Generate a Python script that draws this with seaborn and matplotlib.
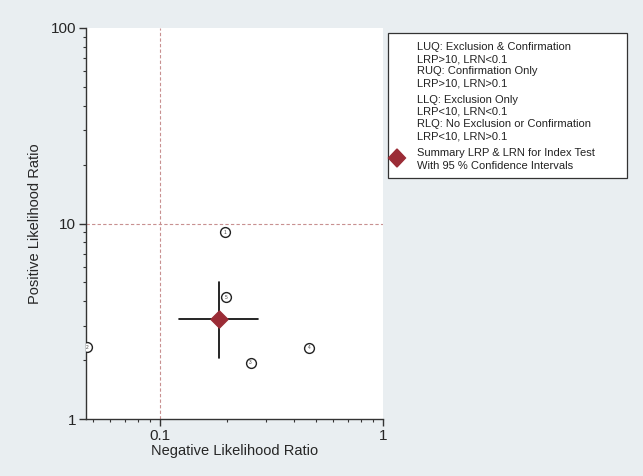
import numpy as np
import pandas as pd
import matplotlib
matplotlib.use("Agg")
import matplotlib.pyplot as plt
import seaborn as sns

# study-level likelihood ratios
study_ids = ["1", "5", "2", "3", "4"]
lr_negative = [0.196, 0.198, 0.0473, 0.255, 0.468]
lr_positive = [9.0, 4.2, 2.34, 1.94, 2.32]

# summary point with 95% CI
summary_lrn = 0.184
summary_lrn_ci = [0.122, 0.275]
summary_lrp = 3.24
summary_lrp_ci = [2.05, 5.03]

legend_lines = [
    "LUQ: Exclusion & Confirmation",
    "LRP>10, LRN<0.1",
    "RUQ: Confirmation Only",
    "LRP>10, LRN>0.1",
    "LLQ: Exclusion Only",
    "LRP<10, LRN<0.1",
    "RLQ: No Exclusion or Confirmation",
    "LRP<10, LRN>0.1",
    "Summary LRP & LRN for Index Test",
    "With 95 % Confidence Intervals",
]

df = pd.DataFrame({"study": study_ids, "LRN": lr_negative, "LRP": lr_positive})

sns.set_style("ticks")
plt.rcParams["font.family"] = ["Liberation Sans", "DejaVu Sans"]

BG = "#e9eef1"
DIAMOND = "#9b2c36"

fig = plt.figure(figsize=(6.43, 4.76), dpi=100, facecolor=BG)
ax = fig.add_axes([0.1337, 0.1191, 0.4619, 0.8227])
ax.set_facecolor("white")

ax.set_xscale("log")
ax.set_yscale("log")
ax.set_xlim(0.0466, 1)
ax.set_ylim(1, 100)

# quadrant reference lines
ax.axvline(0.1, color="#c89090", lw=0.8, ls=(0, (3, 2)), zorder=1)
ax.axhline(10, color="#c89090", lw=0.8, ls=(0, (3, 2)), zorder=1)

# summary CI cross
ax.plot(summary_lrn_ci, [summary_lrp, summary_lrp], color="black", lw=1.2, zorder=3)
ax.plot([summary_lrn, summary_lrn], summary_lrp_ci, color="black", lw=1.2, zorder=3)
ax.scatter([summary_lrn], [summary_lrp], marker="D", s=75, color=DIAMOND,
           edgecolor=DIAMOND, zorder=4)

# individual studies
sns.scatterplot(data=df, x="LRN", y="LRP", ax=ax, marker="o", s=50,
                facecolor="white", edgecolor="#222222", linewidth=1.0,
                zorder=5, legend=False)
for _, r in df.iterrows():
    ax.text(r["LRN"], r["LRP"], r["study"], fontsize=3.5, ha="center",
            va="center", color="#444444", zorder=6)

ax.set_xticks([0.1, 1])
ax.set_xticklabels(["0.1", "1"])
ax.set_yticks([1, 10, 100])
ax.set_yticklabels(["1", "10", "100"])
ax.tick_params(axis="both", which="major", labelsize=11, length=5,
               width=1, color="#333333", pad=2)
ax.tick_params(axis="both", which="minor", length=2.5, width=0.8, color="#333333")
ax.set_xlabel("Negative Likelihood Ratio", fontsize=10.5, labelpad=1)
ax.set_ylabel("Positive Likelihood Ratio", fontsize=10.5, labelpad=6)

for side in ["top", "right"]:
    ax.spines[side].set_visible(False)
for side in ["left", "bottom"]:
    ax.spines[side].set_color("#333333")
    ax.spines[side].set_linewidth(1.0)

# legend box drawn in figure pixels
W, H = 643, 476
box = plt.Rectangle((388 / W, 1 - 178 / H), (627 - 388) / W, (178 - 33) / H,
                    transform=fig.transFigure, facecolor="white",
                    edgecolor="#333333", lw=0.9, zorder=0)
fig.patches.append(box)
line_y = [46.7, 59.3, 71, 83.3, 100, 111.7, 124, 136.7, 153.3, 165.7]
for txt, yy in zip(legend_lines, line_y):
    fig.text(417 / W, 1 - yy / H, txt, fontsize=8, ha="left", va="center",
             color="#222222")
fig.patches.append(plt.Polygon(
    [[397 / W - 0.0132, 1 - 158 / H], [397 / W, 1 - 149 / H],
     [397 / W + 0.0132, 1 - 158 / H], [397 / W, 1 - 167 / H]],
    closed=True, transform=fig.transFigure, facecolor=DIAMOND,
    edgecolor=DIAMOND))

fig.savefig("out.png", dpi=100, facecolor=BG)
